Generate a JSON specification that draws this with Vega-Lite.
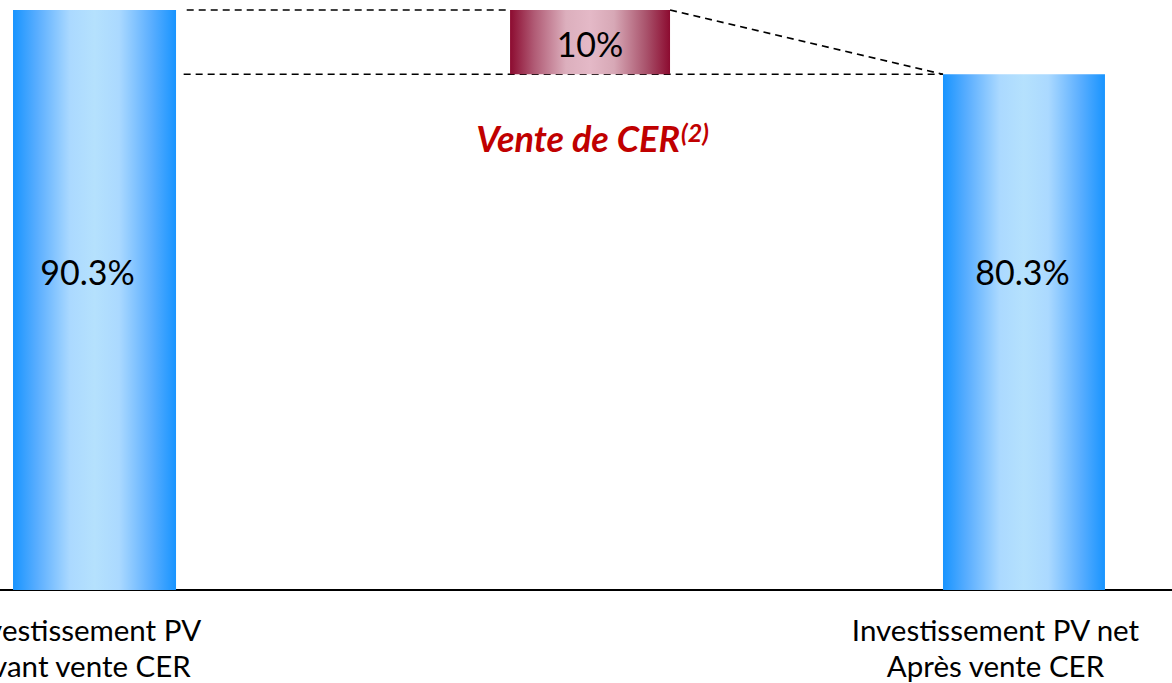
{
  "$schema": "https://vega.github.io/schema/vega-lite/v6.json",
  "autosize": {"type": "none"},
  "width": 1172,
  "height": 683,
  "padding": 0,
  "background": "white",
  "config": {"view": {"stroke": null}},
  "datasets": {
    "bars": [
      {"label": "Investissement PV avant vente CER", "kind": "total", "x": 1.11, "x2": 15.02, "y": 0, "y2": 90.3},
      {"label": "Vente de CER", "kind": "delta", "x": 43.52, "x2": 57.17, "y": 80.3, "y2": 90.3},
      {"label": "Investissement PV net après vente CER", "kind": "total", "x": 80.46, "x2": 94.28, "y": 0, "y2": 80.3}
    ],
    "valueLabels": [
      {"x": 7.47, "y": 49.0, "text": "90.3%"},
      {"x": 50.34, "y": 84.6, "text": "10%"},
      {"x": 87.24, "y": 49.0, "text": "80.3%"}
    ],
    "connectors": [
      {"x": 15.93, "x2": 43.52, "y": 90.3, "y2": 90.3},
      {"x": 15.67, "x2": 80.46, "y": 80.3, "y2": 80.3},
      {"x": 57.17, "x2": 80.46, "y": 90.3, "y2": 80.3}
    ],
    "baseline": [{"x": 0, "x2": 100, "y": 0}],
    "catLabels": [
      {"x": 7.0, "y": -6.54, "text": "Investissement PV"},
      {"x": 7.0, "y": -12.14, "text": "Avant vente CER"},
      {"x": 84.94, "y": -6.54, "text": "Investissement PV net"},
      {"x": 84.94, "y": -12.14, "text": "Après vente CER"}
    ],
    "title": [{"x": 58.02, "y": 69.9, "text": "Vente de CER"}],
    "sup": [{"x": 58.02, "y": 71.0, "text": "(2)"}]
  },
  "encoding": {
    "x": {"field": "x", "type": "quantitative", "scale": {"domain": [0, 100], "nice": false, "zero": false}, "axis": null},
    "y": {"field": "y", "type": "quantitative", "scale": {"domain": [-14.48, 91.86], "nice": false, "zero": false}, "axis": null}
  },
  "layer": [
    {
      "data": {"name": "connectors"},
      "mark": {"type": "rule", "stroke": "black", "strokeWidth": 1.7, "strokeDash": [7, 5]},
      "encoding": {"x2": {"field": "x2"}, "y2": {"field": "y2"}}
    },
    {
      "data": {"name": "baseline"},
      "mark": {"type": "rule", "stroke": "black", "strokeWidth": 2},
      "encoding": {"x2": {"field": "x2"}}
    },
    {
      "data": {"name": "bars"},
      "transform": [{"filter": "datum.kind === 'total'"}],
      "mark": {
        "type": "bar",
        "color": {
          "gradient": "linear", "x1": 0, "y1": 0, "x2": 1, "y2": 0,
          "stops": [
            {"offset": 0, "color": "#1894ff"},
            {"offset": 0.15, "color": "#5aaeff"},
            {"offset": 0.35, "color": "#abd9ff"},
            {"offset": 0.5, "color": "#b5e1fd"},
            {"offset": 0.65, "color": "#abd9ff"},
            {"offset": 0.85, "color": "#5aaeff"},
            {"offset": 1, "color": "#1894ff"}
          ]
        }
      },
      "encoding": {"x2": {"field": "x2"}, "y2": {"field": "y2"}}
    },
    {
      "data": {"name": "bars"},
      "transform": [{"filter": "datum.kind === 'delta'"}],
      "mark": {
        "type": "bar",
        "color": {
          "gradient": "linear", "x1": 0, "y1": 0, "x2": 1, "y2": 0,
          "stops": [
            {"offset": 0, "color": "#8c0b30"},
            {"offset": 0.15, "color": "#b05a74"},
            {"offset": 0.35, "color": "#dcafbd"},
            {"offset": 0.5, "color": "#e4b9c7"},
            {"offset": 0.65, "color": "#d7a8b6"},
            {"offset": 0.85, "color": "#a9536c"},
            {"offset": 1, "color": "#8c0b30"}
          ]
        }
      },
      "encoding": {"x2": {"field": "x2"}, "y2": {"field": "y2"}}
    },
    {
      "data": {"name": "valueLabels"},
      "mark": {"type": "text", "font": "Lato", "fontSize": 34, "color": "black", "align": "center", "baseline": "middle"},
      "encoding": {"text": {"field": "text"}}
    },
    {
      "data": {"name": "catLabels"},
      "mark": {"type": "text", "font": "Lato", "fontSize": 29.5, "color": "black", "align": "center", "baseline": "middle"},
      "encoding": {"text": {"field": "text"}}
    },
    {
      "data": {"name": "title"},
      "mark": {"type": "text", "font": "Lato", "fontSize": 36, "fontWeight": "bold", "fontStyle": "italic", "color": "#c00000", "align": "right", "baseline": "middle"},
      "encoding": {"text": {"field": "text"}}
    },
    {
      "data": {"name": "sup"},
      "mark": {"type": "text", "font": "Lato", "fontSize": 25, "fontWeight": "bold", "fontStyle": "italic", "color": "#c00000", "align": "left", "baseline": "middle", "dx": 1},
      "encoding": {"text": {"field": "text"}}
    }
  ]
}
